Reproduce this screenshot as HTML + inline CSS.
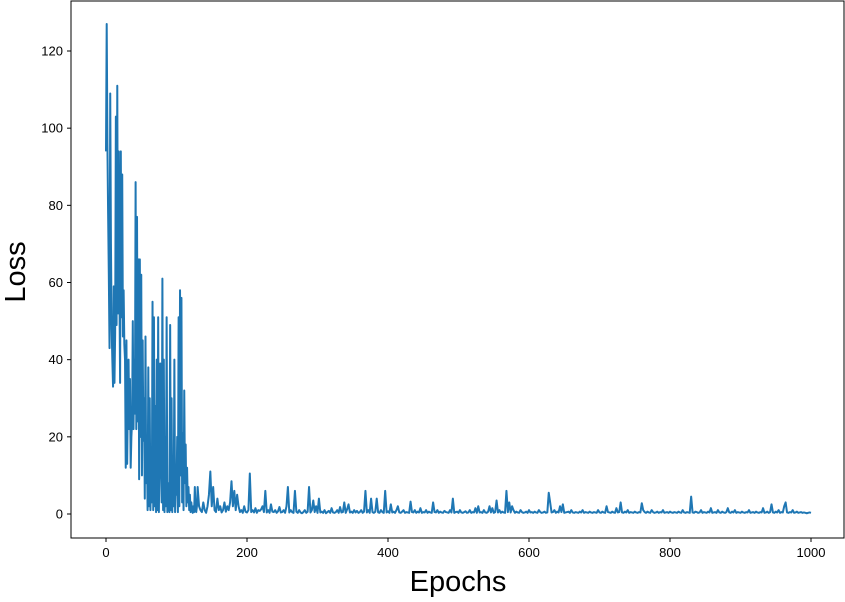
<!DOCTYPE html>
<html><head><meta charset="utf-8"><style>
body{margin:0;background:#fff;}
svg text{font-family:"Liberation Sans","DejaVu Sans",sans-serif;}
</style></head><body>
<svg width="845" height="597" xmlns="http://www.w3.org/2000/svg">
<g id="axes"></g>
</svg>
<script>
const xTicks=[0,200,400,600,800,1000];
const yTicks=[0,20,40,60,80,100,120];
const earlyLoss=[94,127,96,78,62,43,109,70,48,40,
33,59,34,47,103,49,111,52,94,60,
34,94,51,88,46,58,44,40,12,45,
13,30,40,22,35,12,20,24,50,22,
40,26,86,22,77,24,66,9,66,20,
62,10,45,19,30,4,46,8,20,1,
38,2,30,1,12,3,55,1,51,2,
28,0.5,40,1,51,0.5,20,39,12,3,
61,1,40,0.5,20,2,51,0.5,8,3,
0.5,49,1,30,0.5,15,2,40,0.5,8,
5,20,0.5,51,2,58,10,56,3,21,
1,32,8,18,2,12,3,7,1,5,
0.5,3,1,0.3,2,0.5,7,1,0.5,2];
const tailLoss=[7,2,1,0.5,3,1,0.3,2,5,11,2,7,1,0.5,4,1,2,0.4,1,3,
0.6,2,1,3,8.5,2,6,1,5,2,0.5,1,0.3,2,0.6,0.4,1,10.5,0.5,1,
0.4,1.5,0.3,1,0.8,1.2,2,0.5,6,0.4,1,0.3,2.5,0.6,0.5,1,0.3,0.7,1.8,0.4,
0.5,1,0.3,2,7,0.4,1,0.5,0.3,6,0.6,0.3,1,0.4,0.2,0.5,1,0.3,0.6,7,
0.4,1,3.5,0.5,2,0.3,4,0.4,0.6,0.3,1,0.2,0.5,0.8,0.3,1.5,0.4,0.3,0.5,1,
0.3,1.8,0.4,0.5,3,0.3,1.2,2.5,0.4,0.6,0.3,1,0.4,0.8,0.3,0.5,1,0.3,0.6,6,
0.4,1,0.3,4,0.5,0.3,0.6,4,0.4,0.3,1,0.5,0.3,6,0.4,0.7,0.3,2.5,0.4,0.6,
0.3,1,2,0.4,0.3,0.6,1,0.3,0.5,0.4,0.3,3.2,0.5,0.4,1,0.3,0.6,0.4,1.5,0.3,
0.5,0.4,1,0.3,0.6,0.4,0.3,3,0.5,0.4,1,0.3,0.6,0.4,0.3,0.8,0.5,0.4,0.3,1,
0.4,4,0.3,0.5,0.6,0.3,1,0.4,0.3,0.5,0.7,0.3,0.4,1,0.3,0.5,0.4,1.5,0.3,2,
0.4,0.5,0.3,1,0.4,0.3,0.6,2,0.4,1.5,0.3,0.5,3.5,0.4,1,0.3,0.6,0.4,0.3,6,
0.5,3,0.4,2,1,0.3,0.6,0.4,0.3,1,0.5,0.3,0.4,0.6,0.3,1,0.4,0.5,0.3,0.6,
0.4,0.3,1,0.5,0.3,0.4,0.6,0.3,0.4,5.5,3,0.4,0.5,1,0.3,0.6,0.4,2,0.5,2.5,
0.3,0.4,0.5,0.6,0.3,1,0.4,0.3,0.5,0.4,0.3,0.6,0.4,1,0.3,0.5,0.4,0.3,0.6,0.4,
0.3,0.5,0.4,0.3,1,0.4,0.3,0.6,0.4,0.3,2,0.5,0.4,0.3,0.6,0.4,0.3,1.5,0.4,0.5,
3,0.4,0.3,0.6,0.4,1,0.3,0.5,0.4,0.3,0.6,0.4,0.3,0.5,0.4,2.8,1,0.5,0.3,0.6,
0.4,0.3,1,0.5,0.3,0.4,0.6,0.3,0.5,0.4,1,0.3,0.4,0.5,0.3,0.6,0.4,0.3,0.5,0.4,
0.3,0.6,0.4,0.3,1,0.4,0.3,0.5,0.4,0.3,4.5,0.4,0.3,0.6,0.5,0.3,0.4,1,0.3,0.5,
0.4,0.3,0.6,0.4,1.5,0.3,0.4,0.5,0.3,1,0.4,0.3,0.6,0.4,0.3,0.5,1.5,0.4,0.3,0.6,
0.4,1,0.3,0.5,0.4,0.3,0.6,0.4,0.3,0.5,0.4,1,0.3,0.4,0.5,0.3,0.6,0.4,0.3,0.5,
0.4,1.5,0.3,0.4,0.6,0.3,0.5,2.5,0.4,0.3,0.6,0.4,1,0.3,0.5,0.4,2,3,0.4,0.3,
0.5,0.4,1,0.3,0.4,0.6,0.3,0.4,0.5,0.3,0.4,0.3,0.2,0.3,0.4,0.3];
const tailStart=130, tailStep=2;

const L=71,R=844,T=1,B=538;
const xs=v=>106+v*(811-106)/1000;
const ys=v=>514-v*(514-51)/120;
const NS="http://www.w3.org/2000/svg";
const g=document.getElementById('axes');
function mk(tag,attrs,parent){const e=document.createElementNS(NS,tag);for(const k in attrs)e.setAttribute(k,attrs[k]);(parent||g).appendChild(e);return e;}

const pts=[];
earlyLoss.forEach((v,i)=>pts.push(xs(i).toFixed(2)+','+ys(v).toFixed(2)));
tailLoss.forEach((v,i)=>pts.push(xs(tailStart+i*tailStep).toFixed(2)+','+ys(v).toFixed(2)));
const line=mk('polyline',{points:pts.join(' '),fill:'none',stroke:'#1f77b4','stroke-width':2,'stroke-linejoin':'round'});



const frame=mk('rect',{x:L,y:T,width:R-L,height:B-T,fill:'none',stroke:'#000','stroke-width':1});



xTicks.forEach(t=>{
  const x=xs(t);
  mk('line',{x1:x,x2:x,y1:B,y2:B+4,stroke:'#000'});
  const tx=mk('text',{x:x,y:B+19,'text-anchor':'middle','font-size':13});
  tx.textContent=t;
  
  
});
yTicks.forEach(t=>{
  const y=ys(t);
  mk('line',{x1:L-4,x2:L,y1:y,y2:y,stroke:'#000'});
  const tx=mk('text',{x:L-8,y:y+4.5,'text-anchor':'end','font-size':13});
  tx.textContent=t;
  
  
});
const xt=mk('text',{x:458,y:591,'text-anchor':'middle','font-size':29});
xt.textContent='Epochs';


const yt=mk('text',{x:0,y:0,'text-anchor':'middle','font-size':29,transform:'translate(25,272) rotate(-90)'});
yt.textContent='Loss';


</script>
</body></html>
